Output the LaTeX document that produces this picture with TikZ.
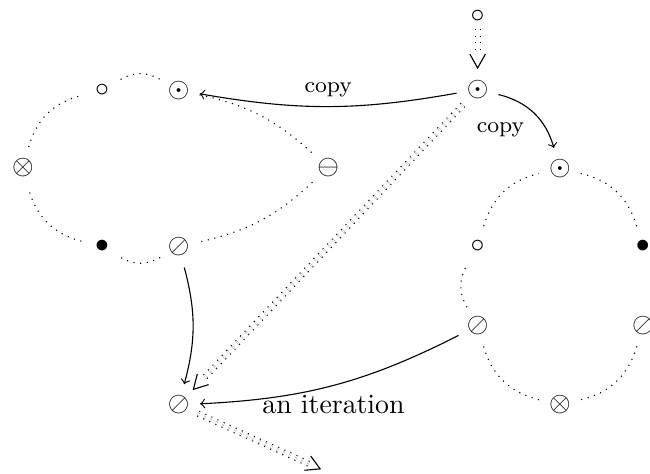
\documentclass[tikz,border=0pt]{standalone}
\usetikzlibrary{arrows,decorations.markings}

\tikzstyle{state}=[circle, minimum size=15pt, inner sep=0pt]
\tikzstyle{ring}=[dotted, bend left=30]
\tikzstyle{pass}=[double, dotted, double distance=1.4pt, shorten >=4.5pt,
    decoration={markings, mark=at position 1 with
        {\draw [solid, line width=0.4pt, shorten >=0pt]
            (-5pt,2.8pt) -- (0,0) -- (-5pt,-2.8pt);}},
    postaction={decorate}]
\tikzstyle{lbl}=[font=\footnotesize]

\begin{document}
\begin{tikzpicture}
    \useasboundingbox (0,0) rectangle (8.22,-5.99);

    % first cycle
    \node (la) [state] at (1.29,-1.14) {$\circ$};
    \node (lb) [state] at (2.26,-1.14) {$\odot$};
    \node (lc) [state] at (4.15,-2.12) {$\ominus$};
    \node (ld) [state] at (2.26,-3.12) {$\oslash$};
    \node (le) [state] at (1.29,-3.12) {$\bullet$};
    \node (lf) [state] at (0.29,-2.12) {$\otimes$};

    % incoming token
    \node (ta) [state, minimum size=9pt] at (6.04,-0.2) {$\circ$};
    \node (tb) [state] at (6.04,-1.13) {$\odot$};

    % second cycle
    \node (ra) [state] at (7.08,-2.13) {$\odot$};
    \node (rb) [state] at (8.13,-3.12) {$\bullet$};
    \node (rc) [state] at (8.13,-4.12) {$\oslash$};
    \node (rd) [state] at (7.08,-5.12) {$\otimes$};
    \node (re) [state] at (6.04,-4.12) {$\oslash$};
    \node (rf) [state] at (6.04,-3.12) {$\circ$};

    % result
    \node (out) [state] at (2.26,-5.12) {$\oslash$};
    \coordinate (next) at (4.05,-5.93);

    \draw [ring] (lf) to (la);
    \draw [ring] (la) to (lb);
    \draw [ring, bend left=15] (lb) to (lc);
    \draw [ring, bend left=15] (lc) to (ld);
    \draw [ring] (ld) to (le);
    \draw [ring] (le) to (lf);

    \draw [ring] (ra) to (rb);
    \draw [ring] (rb) to (rc);
    \draw [ring] (rc) to (rd);
    \draw [ring] (rd) to (re);
    \draw [ring] (re) to (rf);
    \draw [ring] (rf) to (ra);

    \draw [->] (tb) to [bend left=10] node [lbl, above] {copy} (lb);
    \draw [->] (tb) to [bend left=30] node [lbl, below left] {copy} (ra);
    \draw [->] (ld) to [bend left=15] (out);
    \draw [->] (re) to [bend left=12] node [below] {an iteration} (out);

    \draw [pass] (ta) -- (tb);
    \draw [pass] (tb) -- (out);
    \draw [pass] (out) -- (next);

\end{tikzpicture}
\end{document}
